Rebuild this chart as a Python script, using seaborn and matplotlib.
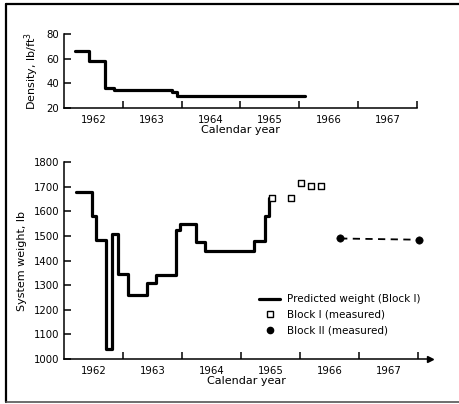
import numpy as np
import matplotlib
matplotlib.use("Agg")
import matplotlib.pyplot as plt
import seaborn as sns
from matplotlib.lines import Line2D

# density history (top panel)
dens_years = [1962.19, 1962.43, 1962.70, 1962.85, 1963.84, 1963.92, 1966.10]
dens_vals = [66, 58, 36.5, 35, 33, 30, 30]

# predicted weight, Block I (bottom panel)
wt_years = [1962.20, 1962.48, 1962.54, 1962.71, 1962.82, 1962.91, 1963.08,
            1963.41, 1963.56, 1963.89, 1963.97, 1964.23, 1964.39, 1965.22,
            1965.40, 1965.47, 1965.53]
wt_vals = [1680, 1580, 1485, 1040, 1510, 1345, 1260, 1310, 1340, 1525,
           1550, 1475, 1440, 1480, 1580, 1655, 1655]

# measured weights
blk1_years = [1965.53, 1965.84, 1966.01, 1966.18, 1966.35]
blk1_vals = [1655, 1655, 1715, 1705, 1705]
blk2_years = [1966.68, 1968.01]
blk2_vals = [1490, 1485]

year_labels = ["1962", "1963", "1964", "1965", "1966", "1967"]

sns.set_style("ticks", {"axes.edgecolor": "black", "text.color": "black",
                        "axes.labelcolor": "black", "xtick.color": "black",
                        "ytick.color": "black"})
plt.rcParams['font.family'] = ['DejaVu Sans']
plt.rcParams['axes.linewidth'] = 1.1

fig = plt.figure(figsize=(4.59, 4.04), dpi=100)
ax1 = fig.add_axes([0.1394, 0.7327, 0.769, 0.183])
ax2 = fig.add_axes([0.1394, 0.112, 0.797, 0.486])


def style_axis(ax, xmax):
    sns.despine(ax=ax)
    ax.set_xlim(1962, xmax)
    ax.set_xticks(np.arange(1963, 1969))
    ax.set_xticklabels([])
    ax.set_xticks(np.arange(1962.5, 1968, 1.0), minor=True)
    ax.set_xticklabels(year_labels, minor=True, fontsize=7.3)
    ax.tick_params(axis="x", which="major", direction="in", length=5, width=1.1)
    ax.tick_params(axis="x", which="minor", length=0, pad=5)
    ax.tick_params(axis="y", direction="in", length=5, width=1.1, labelsize=7.3)
    ax.set_xlabel("Calendar year", fontsize=8, labelpad=0)


# top: density
sns.lineplot(x=dens_years, y=dens_vals, drawstyle="steps-post", color="black",
             lw=2.3, ax=ax1)
style_axis(ax1, 1968)
ax1.set_ylim(20, 80)
ax1.set_yticks([20, 40, 60, 80])
ax1.set_ylabel("Density, lb/ft$^3$", fontsize=8, labelpad=4)

# bottom: system weight
sns.lineplot(x=wt_years, y=wt_vals, drawstyle="steps-post", color="black",
             lw=2.3, ax=ax2)
sns.scatterplot(x=blk1_years, y=blk1_vals, marker="s", s=22, facecolor="white",
                edgecolor="black", linewidth=1.0, ax=ax2, zorder=3)
sns.lineplot(x=blk2_years, y=blk2_vals, color="black", lw=1.3,
             linestyle=(0, (4, 3)), ax=ax2)
sns.scatterplot(x=blk2_years, y=blk2_vals, marker="o", s=28, color="black",
                edgecolor="black", ax=ax2, zorder=3)
style_axis(ax2, 1968.2)
ax2.set_ylim(1000, 1800)
ax2.set_yticks(np.arange(1000, 1801, 100))
ax2.set_ylabel("System weight, lb", fontsize=8, labelpad=5)
ax2.plot(1, 0, ">k", transform=ax2.transAxes, clip_on=False, markersize=5)

handles = [
    Line2D([], [], color="black", lw=2.3),
    Line2D([], [], marker="s", ls="none", mfc="white", mec="black", ms=4.5),
    Line2D([], [], marker="o", ls="none", color="black", ms=4.5),
]
labels = ["Predicted weight (Block I)", "Block I (measured)", "Block II (measured)"]
ax2.legend(handles, labels, loc="upper left", bbox_to_anchor=(0.52, 0.355),
           frameon=False, fontsize=7.5, handlelength=2.0, handletextpad=0.6,
           labelspacing=0.55, borderpad=0)

# page border
fig.add_artist(Line2D([0.013, 0.013], [0.005, 0.991], color="black", lw=1.6))
fig.add_artist(Line2D([0.013, 1.0], [0.991, 0.991], color="black", lw=1.6))
fig.add_artist(Line2D([0.013, 1.0], [0.005, 0.005], color="#555555", lw=1.2))

fig.savefig("out.png", dpi=100)
